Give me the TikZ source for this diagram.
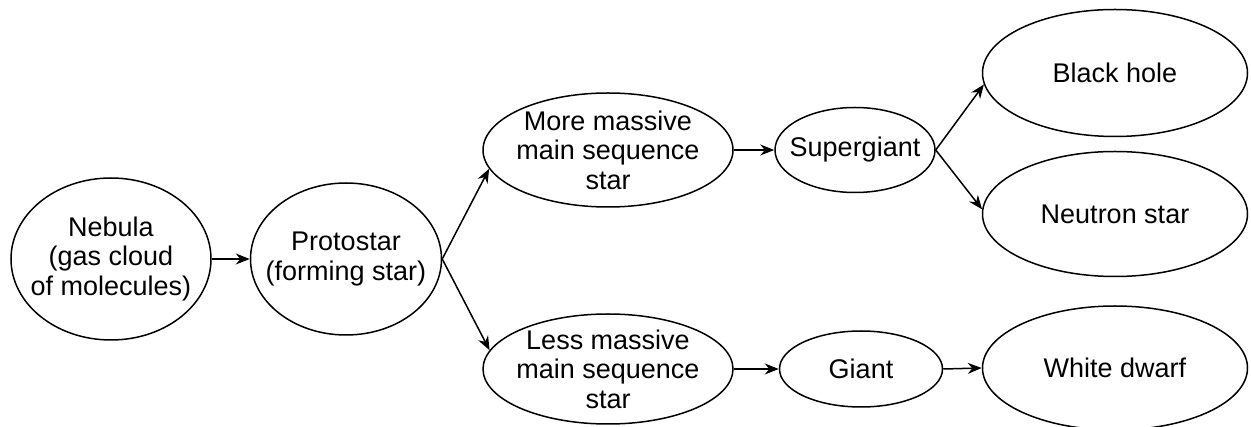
\documentclass[tikz,border=0pt]{standalone}
\usepackage{fontspec}
\setmainfont{Liberation Sans}
\usetikzlibrary{shapes.geometric,arrows.meta}
\begin{document}
\begin{tikzpicture}[x=1pt,y=1pt,
  stage/.style={ellipse,draw,line width=1.5pt,inner sep=0pt},
  txt/.style={align=center,inner sep=0pt,font=\fontsize{27}{29.5}\selectfont},
  flow/.style={-{Stealth[length=14pt,width=11pt]},line width=1.5pt}]
\useasboundingbox (0,0) rectangle (1251,-427);
\node[stage,minimum width=200,minimum height=162,label={[txt]center:Nebula\\(gas cloud\\of molecules)}] (neb) at (111,-259) {};
\node[stage,minimum width=191,minimum height=152,label={[txt]center:Protostar\\(forming star)}] (pro) at (346,-259) {};
\node[stage,minimum width=250,minimum height=114,label={[txt]center:More massive\\main sequence\\star}] (more) at (608,-150) {};
\node[stage,minimum width=250,minimum height=110,label={[txt]center:Less massive\\main sequence\\star}] (less) at (608,-369) {};
\node[stage,minimum width=160,minimum height=85,label={[txt]center:Supergiant}] (sg) at (855,-150) {};
\node[stage,minimum width=163,minimum height=76,label={[txt]center:Giant}] (gi) at (861,-369) {};
\node[stage,minimum width=265,minimum height=127,label={[txt]center:Black hole}] (bh) at (1115,-73) {};
\node[stage,minimum width=265,minimum height=125,label={[txt]center:Neutron star}] (ns) at (1115,-214) {};
\node[stage,minimum width=265,minimum height=124,label={[txt]center:White dwarf}] (wd) at (1115,-368) {};
\draw[flow] (neb.east) -- (pro.west);
\draw[flow] (pro.east) -- (more.189);
\draw[flow] (pro.east) -- (less.171);
\draw[flow] (more.east) -- (sg.west);
\draw[flow] (less.east) -- (gi.west);
\draw[flow] (sg.east) -- (bh.185);
\draw[flow] (sg.east) -- (ns.178);
\draw[flow] (gi.east) -- (wd.west);
\end{tikzpicture}
\end{document}
